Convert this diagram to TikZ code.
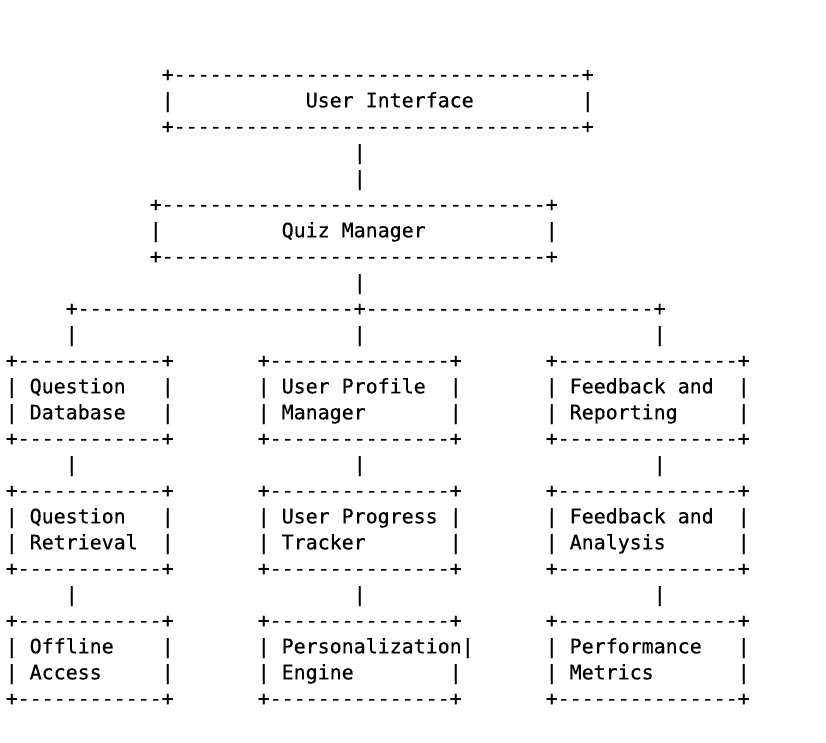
\documentclass[tikz,border=0pt]{standalone}
\usepackage{fontspec}
\setmonofont{DejaVu Sans Mono}[FakeBold=0.5]
\ExplSyntaxOn
\cs_new:Npn \asciidash #1 { \prg_replicate:nn {#1} {-} }
\ExplSyntaxOff
\newlength\chw
\setlength\chw{12pt}
\newcommand\asciisp[1]{\hspace*{#1\chw}}
\newcommand\boxrow{+\asciidash{12}+\asciisp{7}+\asciidash{15}+\asciisp{7}+\asciidash{15}+}
\newcommand\barrow{|\asciisp{23}|\asciisp{24}|}
\begin{document}
\begin{tikzpicture}[x=1pt,y=-1pt,
  row/.style={anchor=base west, inner sep=0pt, outer sep=0pt, text=black,
    font=\ttfamily\fontsize{19.932pt}{26pt}\selectfont}]
\useasboundingbox (0,0) rectangle (826,742);
% User Interface box
\node[row] (uiTop) at (161.7,81.3) {+\asciidash{34}+};
\node[row] (uiMid) at (161.7,107.3) {|\asciisp{11}User Interface\asciisp{9}|};
\node[row] (uiBot) at (161.7,133.3) {+\asciidash{34}+};
% link
\node[row] (linkA) at (353.7,159.3) {|};
\node[row] (linkB) at (353.7,185.3) {|};
% Quiz Manager box
\node[row] (qmTop) at (149.7,211.3) {+\asciidash{32}+};
\node[row] (qmMid) at (149.7,237.3) {|\asciisp{10}Quiz Manager\asciisp{10}|};
\node[row] (qmBot) at (149.7,263.3) {+\asciidash{32}+};
\node[row] (linkC) at (353.7,289.3) {|};
% branch
\node[row] (branch) at (65.7,315.3) {+\asciidash{23}+\asciidash{24}+};
\node[row] (drops1) at (65.7,341.3) {\barrow};
% first tier
\node[row] (t1Top) at (5.7,367.3) {\boxrow};
\node[row] (t1L1) at (5.7,393.3) {|\asciisp{1}Question\asciisp{3}|\asciisp{7}|\asciisp{1}User Profile\asciisp{2}|\asciisp{7}|\asciisp{1}Feedback and\asciisp{2}|};
\node[row] (t1L2) at (5.7,419.3) {|\asciisp{1}Database\asciisp{3}|\asciisp{7}|\asciisp{1}Manager\asciisp{7}|\asciisp{7}|\asciisp{1}Reporting\asciisp{5}|};
\node[row] (t1Bot) at (5.7,445.3) {\boxrow};
\node[row] (drops2) at (65.7,471.3) {\barrow};
% second tier
\node[row] (t2Top) at (5.7,497.3) {\boxrow};
\node[row] (t2L1) at (5.7,523.3) {|\asciisp{1}Question\asciisp{3}|\asciisp{7}|\asciisp{1}User Progress\asciisp{1}|\asciisp{7}|\asciisp{1}Feedback and\asciisp{2}|};
\node[row] (t2L2) at (5.7,549.3) {|\asciisp{1}Retrieval\asciisp{2}|\asciisp{7}|\asciisp{1}Tracker\asciisp{7}|\asciisp{7}|\asciisp{1}Analysis\asciisp{6}|};
\node[row] (t2Bot) at (5.7,575.3) {\boxrow};
\node[row] (drops3) at (65.7,601.3) {\barrow};
% third tier
\node[row] (t3Top) at (5.7,627.3) {\boxrow};
\node[row] (t3L1) at (5.7,653.3) {|\asciisp{1}Offline\asciisp{4}|\asciisp{7}|\asciisp{1}Personalization|\asciisp{6}|\asciisp{1}Performance\asciisp{3}|};
\node[row] (t3L2) at (5.7,679.3) {|\asciisp{1}Access\asciisp{5}|\asciisp{7}|\asciisp{1}Engine\asciisp{8}|\asciisp{7}|\asciisp{1}Metrics\asciisp{7}|};
\node[row] (t3Bot) at (5.7,705.3) {\boxrow};
\end{tikzpicture}
\end{document}
